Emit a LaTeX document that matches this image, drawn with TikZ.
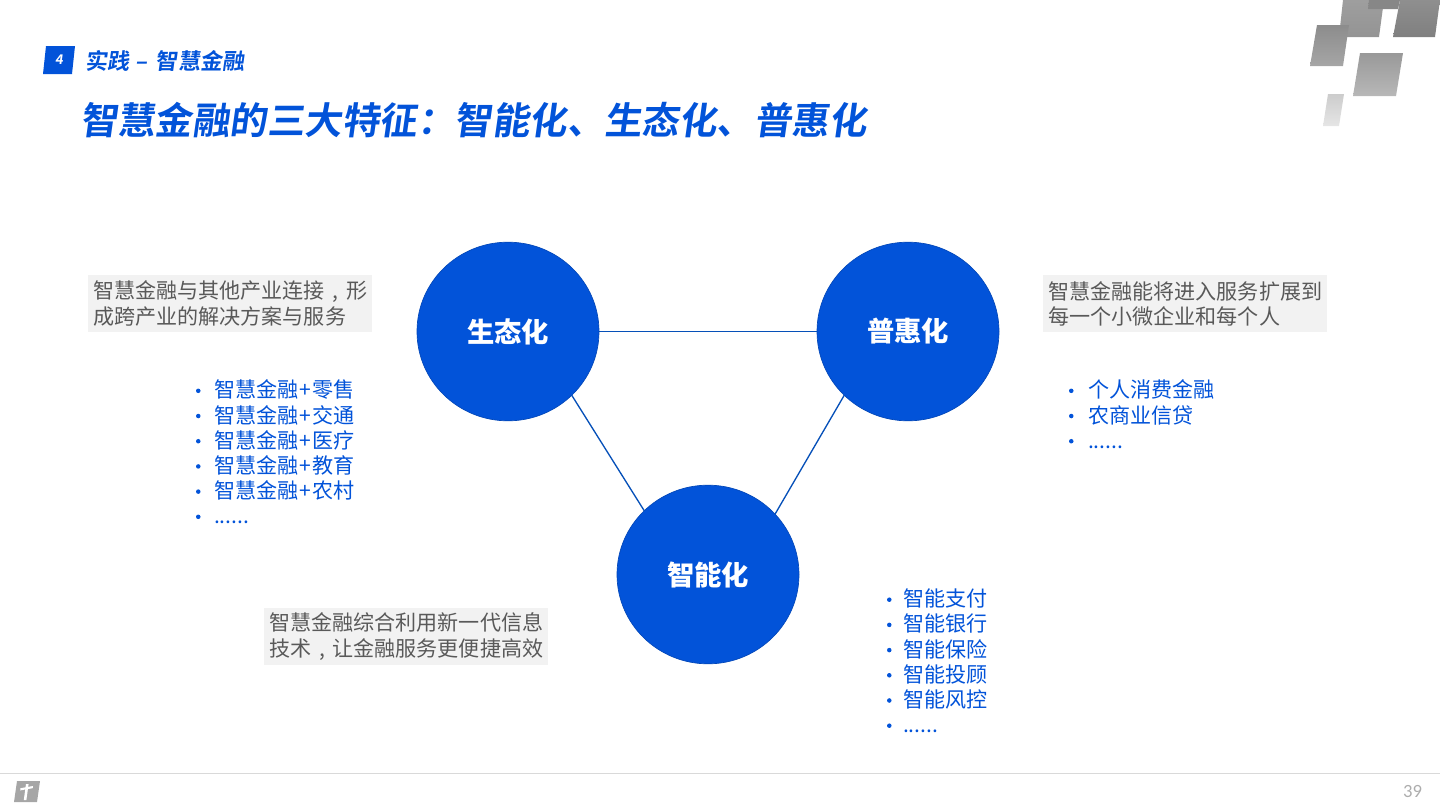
\documentclass[tikz,border=0pt]{standalone}
\usepackage{fontspec}
\usetikzlibrary{shapes.geometric}
\setmainfont{Noto Sans CJK SC}
\newfontfamily\headfont[FakeSlant=0.14,BoldFont={Noto Sans CJK SC Bold}]{Noto Sans CJK SC}
\newfontfamily\latinfont{Carlito}
\definecolor{mainblue}{HTML}{0253D9}
\definecolor{linkblue}{HTML}{0650B8}
\definecolor{bodygray}{HTML}{595959}
\definecolor{boxgray}{HTML}{F2F2F2}
\newcommand{\blt}[1][13.5pt]{\makebox[#1][l]{\raisebox{3.6pt}{\tikz\fill[mainblue] (0,0) circle (1.7pt);}}}
\newcommand{\cjkcomma}{\makebox[1em][c]{,}}
\newcommand{\pls}{\hspace{0.8pt}+\hspace{0.8pt}}
\tikzset{
  every node/.style={inner sep=0pt,outer sep=0pt},
  hub/.style={ellipse,minimum width=136.5pt,minimum height=134pt,fill=mainblue,draw=mainblue!85!black,line width=0.5pt,text=white,font=\fontsize{20.5}{24}\selectfont\bfseries},
  link/.style={draw=linkblue,line width=1pt},
  infobox/.style={fill=boxgray,text width=213pt,minimum height=42.8pt,text=bodygray,align=left,font=\fontsize{15.8}{18.9}\selectfont},
  bulletlist/.style={anchor=north west,text=mainblue,align=left,font=\fontsize{15.8}{18.9}\selectfont}
}
\begin{document}
\begin{tikzpicture}[x=0.75pt,y=-0.75pt]
\useasboundingbox (0,0) rectangle (1440,810);
% logo top right
\shade[top color=black!38,bottom color=black!42] (1343,0)--(1384,0)--(1379,37)--(1339,37)--cycle;
\shade[top color=black!44,bottom color=black!50] (1400,0)--(1440,0)--(1435,37)--(1393,37)--cycle;
\shade[top color=black!47,bottom color=black!47] (1369,0)--(1400,0)--(1398,9)--(1368,9)--cycle;
\shade[top color=black!45,bottom color=black!35] (1317,25)--(1349,25)--(1343,66)--(1310,66)--cycle;
\shade[top color=black!40,bottom color=black!28] (1360,53)--(1403,53)--(1396,96)--(1353,96)--cycle;
\shade[top color=black!20,bottom color=black!10] (1328,94)--(1344,94)--(1339,126)--(1323,126)--cycle;
% header
\fill[mainblue] (46,46)--(75,46)--(72,74)--(43,74)--cycle;
\node[text=white,font=\headfont\bfseries\fontsize{10}{12}\selectfont] (secnum) at (59,60) {4};
\node[anchor=west,text=mainblue,font=\headfont\bfseries\fontsize{16.6}{18}\selectfont] (section) at (85,61) {实践\hspace{5pt}–\hspace{6pt}智慧金融};
\node[anchor=west,text=mainblue,font=\headfont\bfseries\fontsize{28.1}{32}\selectfont] (title) at (80,120) {智慧金融的三大特征^^^^ff1a智能化、生态化、普惠化};
% hubs
\node[hub] (eco) at (508,331.5) {生态化};
\node[hub] (inc) at (908,331.5) {普惠化};
\node[hub] (smart) at (708,574.5) {智能化};
\draw[link] (eco) -- (inc);
\draw[link] (eco.-45) -- (smart.135);
\draw[link] (inc.225) -- (smart.42);
% boxes
\node[infobox,anchor=north west] (ecobox) at (88,275) {\hspace*{4pt}智慧金融与其他产业连接\cjkcomma 形\\\hspace*{4pt}成跨产业的解决方案与服务};
\node[infobox,anchor=north west] (incbox) at (1043,275) {\hspace*{4pt}智慧金融能将进入服务扩展到\\\hspace*{4pt}每一个小微企业和每个人};
\node[infobox,anchor=north west] (smartbox) at (264,608) {\hspace*{4pt}智慧金融综合利用新一代信息\\\hspace*{4pt}技术\cjkcomma 让金融服务更便捷高效};
% lists
\node[bulletlist] (ecolist) at (196,380) {\blt 智慧金融\pls 零售\\\blt 智慧金融\pls 交通\\\blt 智慧金融\pls 医疗\\\blt 智慧金融\pls 教育\\\blt 智慧金融\pls 农村\\\blt ......};
\node[bulletlist] (inclist) at (1069,380) {\blt[14.25pt]个人消费金融\\\blt[14.25pt]农商业信贷\\\blt[14.25pt]......};
\node[bulletlist] (smartlist) at (887,589) {\blt[12pt]智能支付\\\blt[12pt]智能银行\\\blt[12pt]智能保险\\\blt[12pt]智能投顾\\\blt[12pt]智能风控\\\blt[12pt]......};
% footer
\coordinate (ruleA) at (0,773.5);
\coordinate (ruleB) at (1440,773.5);
\draw[black!15,line width=0.75pt] (ruleA) -- (ruleB);
\fill[black!35] (17,781)--(40,781)--(37,802)--(14,802)--cycle;
\fill[white] (26,784)--(28.6,784)--(26.4,800)--(23.8,800)--cycle;
\fill[white] (20.5,788.2)--(33,786)--(32.7,788.2)--(20.2,790.4)--cycle;
\node[anchor=east,text=black!32,font=\latinfont\fontsize{14}{16}\selectfont] (pageno) at (1422,792) {39};
\end{tikzpicture}
\end{document}
